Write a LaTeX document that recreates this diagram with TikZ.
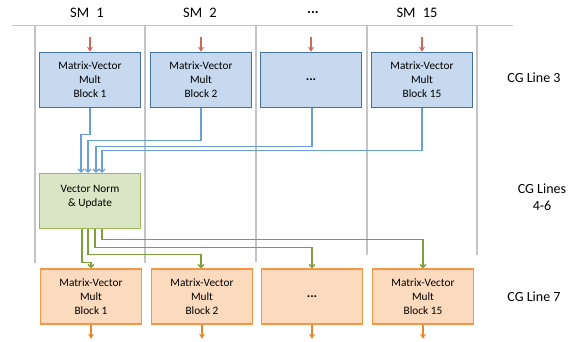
\documentclass[tikz,border=0pt]{standalone}
\usepackage{fontspec}
\setmainfont{Carlito}
\usetikzlibrary{arrows.meta}
\definecolor{blfill}{HTML}{C6D9EE}
\definecolor{bldraw}{HTML}{41719C}
\definecolor{blwire}{HTML}{6A9ED6}
\definecolor{grfill}{HTML}{D9E5C5}
\definecolor{grdraw}{HTML}{9BBB59}
\definecolor{grwire}{HTML}{7F9F3F}
\definecolor{orfill}{HTML}{FCDABE}
\definecolor{ordraw}{HTML}{F79646}
\definecolor{orarrow}{HTML}{E8862A}
\definecolor{redarr}{HTML}{D0685A}
\definecolor{sepcol}{HTML}{C4C4C4}
\begin{document}
\begin{tikzpicture}[x=1pt,y=-1pt,
  box/.style={draw, line width=1.5pt, minimum width=101pt, minimum height=55pt,
    inner sep=0pt, align=center, font=\fontsize{11.3}{14}\selectfont},
  bbox/.style={box, draw=bldraw, fill=blfill},
  gbox/.style={box, draw=grdraw, fill=grfill},
  obox/.style={box, draw=ordraw, fill=orfill},
  sepline/.style={draw=sepcol, line width=1.4pt},
  bw/.style={draw=blwire, line width=1.2pt, -{Straight Barb[length=3pt,width=6pt]}},
  gw/.style={draw=grwire, line width=1.3pt, -{Straight Barb[length=3pt,width=6pt]}},
  redarrow/.style={draw=redarr, line width=1.3pt, -{Stealth[length=5pt,width=6pt]}},
  orarrowst/.style={draw=orarrow, line width=1.3pt, -{Stealth[length=5pt,width=6pt]}},
  head/.style={font=\fontsize{14.5}{17}\selectfont},
  side/.style={font=\fontsize{14}{17}\selectfont, align=center}]
\useasboundingbox (0,0) rectangle (578,341);

% separators
\draw[sepline] (12,25.5) coordinate (hl) -- (513,25.5) coordinate (hr);
\foreach \x/\y in {35/263,145/263,256/262,367/255,477/255}
  \draw[sepline] (\x,25.5) -- (\x,\y);

% headers
\node[head] (sm1) at (87,12.5) {SM\hspace{0.5em}1};
\node[head] (sm2) at (200,12.5) {SM\hspace{0.5em}2};
\node[head] (smd) at (313,12.5) {\textbf{...}};
\node[head] (sm15) at (417,12.5) {SM\hspace{0.5em}15};

% side labels
\node[side] (cg3) at (534,78) {CG Line 3};
\node[side] (cg46) at (542,197) {CG Lines\\4-6};
\node[side] (cg7) at (534,297) {CG Line 7};

% blue boxes
\node[bbox] (b1) at (90,80) {Matrix-Vector\\Mult\\Block 1};
\node[bbox] (b2) at (201,80) {Matrix-Vector\\Mult\\Block 2};
\node[bbox] (b3) at (311,80) {\fontsize{13}{14}\selectfont\textbf{...}};
\node[bbox] (b4) at (422,80) {Matrix-Vector\\Mult\\Block 15};

% green box
\node[gbox, text depth=10pt] (g) at (90,201) {Vector Norm\\\& Update};

% orange boxes
\node[obox] (o1) at (91,296.5) {Matrix-Vector\\Mult\\Block 1};
\node[obox] (o2) at (202,296.5) {Matrix-Vector\\Mult\\Block 2};
\node[obox] (o3) at (312,296.5) {\fontsize{13}{14}\selectfont\textbf{...}};
\node[obox] (o4) at (423,296.5) {Matrix-Vector\\Mult\\Block 15};

% red input arrows
\foreach \b in {b1,b2,b3,b4}
  \draw[redarrow] (\b.north) ++(0,-15) coordinate (in\b) -- (\b.north);

% orange output arrows
\foreach \o in {o1,o2,o3,o4}
  \draw[orarrowst] (\o.south) -- ++(0,14) coordinate (out\o);

% blue wires to green
\draw[bw] (b1.south) -- ++(0,26) -| ([xshift=-9pt]g.north);
\draw[bw] (b2.south) -- ++(0,32) -| ([xshift=-2pt]g.north);
\draw[bw] ([xshift=1pt]b3.south) -- ++(0,38) -| ([xshift=6pt]g.north);
\draw[bw] (b4.south) -- ++(0,42) -| ([xshift=12pt]g.north);

% green wires to orange
\draw[gw] ([xshift=-8pt]g.south) -- ++(0,33) -| (o1.north);
\draw[gw] ([xshift=-2pt]g.south) -- ++(0,25) -| ([xshift=-1pt]o2.north);
\draw[gw] ([xshift=5pt]g.south) -- ++(0,18) -| (o3.north);
\draw[gw] ([xshift=12pt]g.south) -- ++(0,10) -| (o4.north);
\end{tikzpicture}
\end{document}
